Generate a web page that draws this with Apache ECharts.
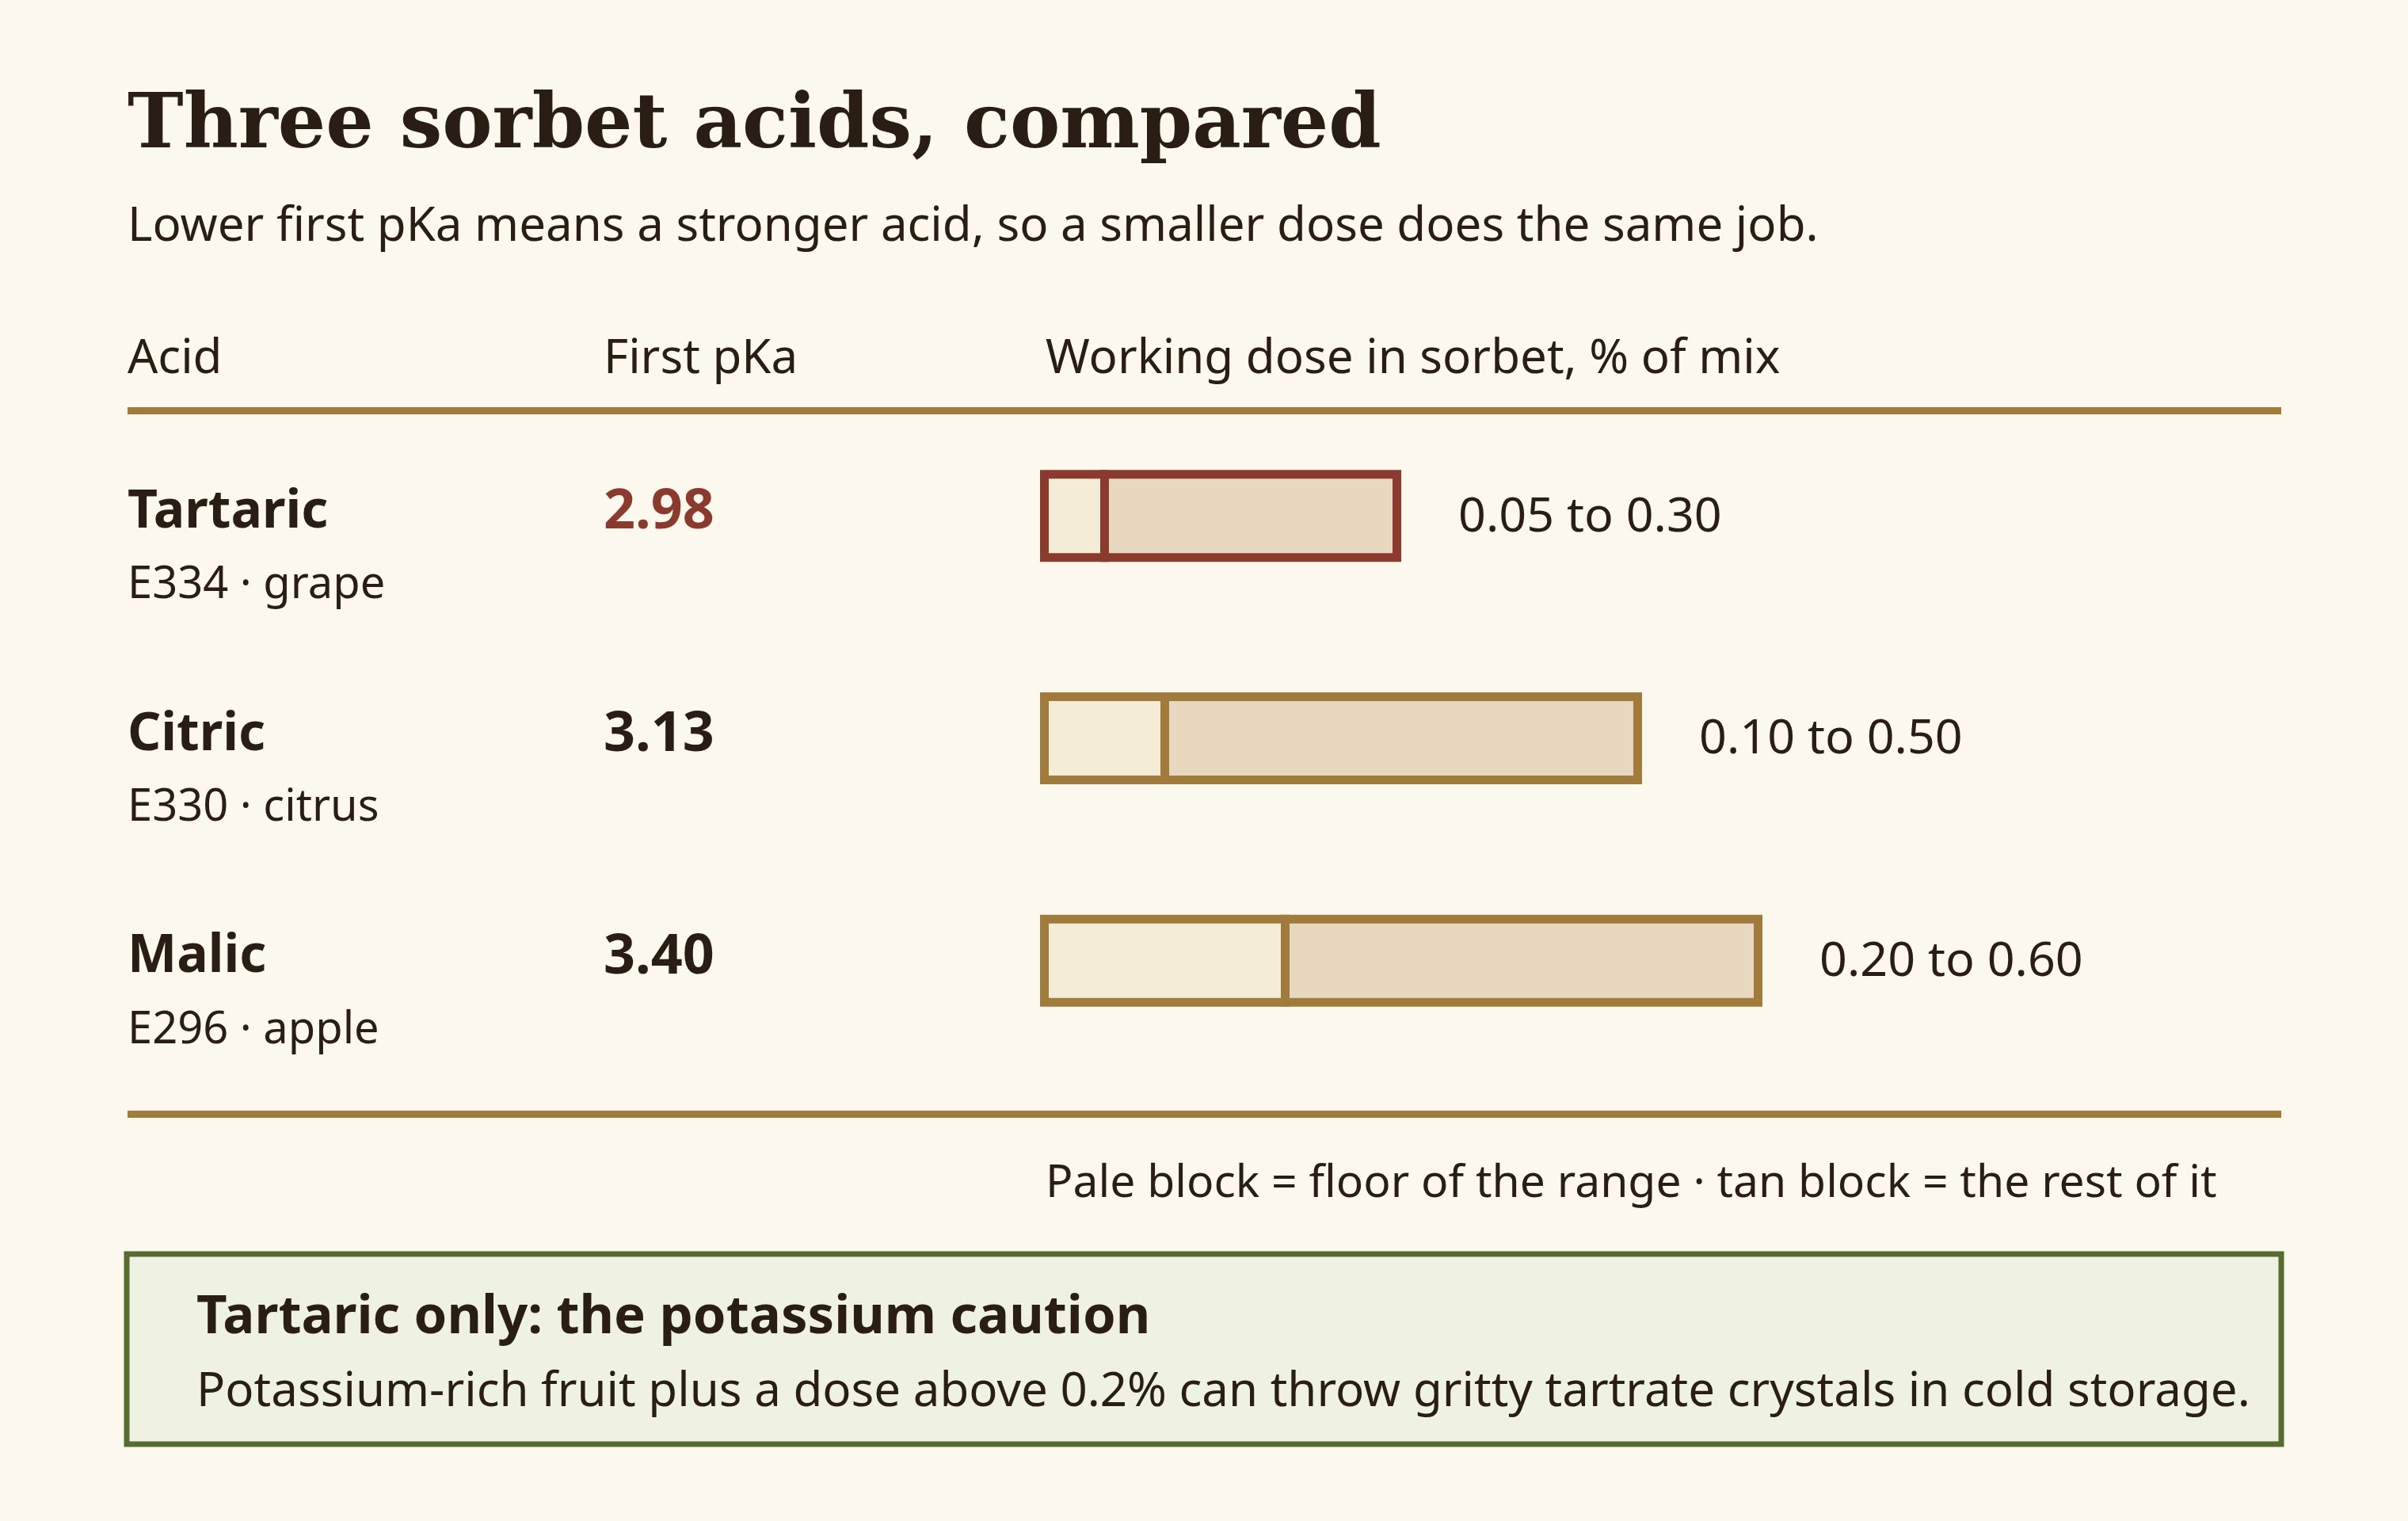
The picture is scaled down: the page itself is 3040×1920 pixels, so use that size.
<!DOCTYPE html>
<html><head><meta charset="utf-8">
<script src="https://cdn.jsdelivr.net/npm/echarts@6/dist/echarts.min.js"></script>
<style>html,body{margin:0;padding:0;background:#FCF8EE}#c{width:3040px;height:1920px}</style>
</head><body><div id="c"></div>
<script>
const acids = ['Tartaric', 'Citric', 'Malic'];
const subs = ['E334 · grape', 'E330 · citrus', 'E296 · apple'];
const pKa = ['2.98', '3.13', '3.40'];
const doseFloor = [0.05, 0.10, 0.20];
const doseMax = [0.30, 0.50, 0.60];
const highlight = [true, false, false];

const SANS = '"Noto Sans", "Open Sans", sans-serif';
const SERIF = '"DejaVu Serif", "Liberation Serif", serif';
const INK = '#2A1E14';
const GOLD = '#A07B3B';
const RED = '#8B3A2E';

const data = acids.map((a, i) => [doseFloor[i], doseMax[i], i]);

const chart = echarts.init(document.getElementById('c'));
chart.setOption({
  backgroundColor: '#FCF8EE',
  animation: false,
  grid: { left: 1313, right: 207, top: 511, bottom: 567 },
  xAxis: { type: 'value', min: 0, max: 1, show: false },
  yAxis: { type: 'category', data: acids, inverse: true, show: false },
  graphic: [
    { type: 'text', left: 161, top: 114, style: { text: 'Three sorbet acids, compared', font: 'bold 95px ' + SERIF, fill: INK } },
    { type: 'text', left: 161, top: 257, style: { text: 'Lower first pKa means a stronger acid, so a smaller dose does the same job.', font: '60px ' + SANS, fill: INK } },
    { type: 'text', left: 161, top: 424, style: { text: 'Acid', font: '60px ' + SANS, fill: INK } },
    { type: 'text', left: 762, top: 424, style: { text: 'First pKa', font: '60px ' + SANS, fill: INK } },
    { type: 'text', left: 1320, top: 424, style: { text: 'Working dose in sorbet, % of mix', font: '60px ' + SANS, fill: INK } },
    { type: 'rect', shape: { x: 161, y: 514, width: 2719, height: 9 }, style: { fill: GOLD } },
    { type: 'rect', shape: { x: 161, y: 1402, width: 2719, height: 9 }, style: { fill: GOLD } },
    { type: 'text', left: 1320, top: 1466, style: { text: 'Pale block = floor of the range · tan block = the rest of it', font: '57px ' + SANS, fill: INK } },
    { type: 'rect', shape: { x: 160, y: 1583, width: 2720, height: 240 }, style: { fill: '#EFF2E3', stroke: '#556B2F', lineWidth: 7 } },
    { type: 'text', left: 248, top: 1630, style: { text: 'Tartaric only: the potassium caution', font: 'bold 67px ' + SANS, fill: INK } },
    { type: 'text', left: 248, top: 1728, style: { text: 'Potassium-rich fruit plus a dose above 0.2% can throw gritty tartrate crystals in cold storage.', font: '60px ' + SANS, fill: INK } }
  ],
  series: [{
    type: 'custom',
    data: data,
    encode: { x: [0, 1], y: 2 },
    renderItem: function (params, api) {
      const i = api.value(2);
      const p0 = api.coord([0, i]);
      const pf = api.coord([api.value(0), i]);
      const pm = api.coord([api.value(1), i]);
      const cy = p0[1];
      const h = 116, lw = 11, half = lw / 2;
      const col = highlight[i] ? RED : GOLD;
      const top = cy - h / 2;
      return {
        type: 'group',
        children: [
          { type: 'rect', shape: { x: p0[0] + half, y: top + half, width: pf[0] - p0[0], height: h - lw },
            style: { fill: '#F5ECD7', stroke: col, lineWidth: lw } },
          { type: 'rect', shape: { x: pf[0] + half, y: top + half, width: pm[0] - pf[0] - lw, height: h - lw },
            style: { fill: '#E8D8BF', stroke: col, lineWidth: lw } },
          { type: 'text', style: { x: pm[0] + 72, y: cy + 2, text: api.value(0).toFixed(2) + ' to ' + api.value(1).toFixed(2),
            font: '61px ' + SANS, fill: INK, verticalAlign: 'middle' } },
          { type: 'text', style: { x: 161, y: cy - 4, text: acids[i], font: 'bold 66px ' + SANS, fill: INK, verticalAlign: 'middle' } },
          { type: 'text', style: { x: 161, y: cy + 88, text: subs[i], font: '56px ' + SANS, fill: INK, verticalAlign: 'middle' } },
          { type: 'text', style: { x: 762, y: cy - 4, text: pKa[i], font: 'bold 70px ' + SANS, fill: highlight[i] ? RED : INK, verticalAlign: 'middle' } }
        ]
      };
    }
  }]
});
</script></body></html>
